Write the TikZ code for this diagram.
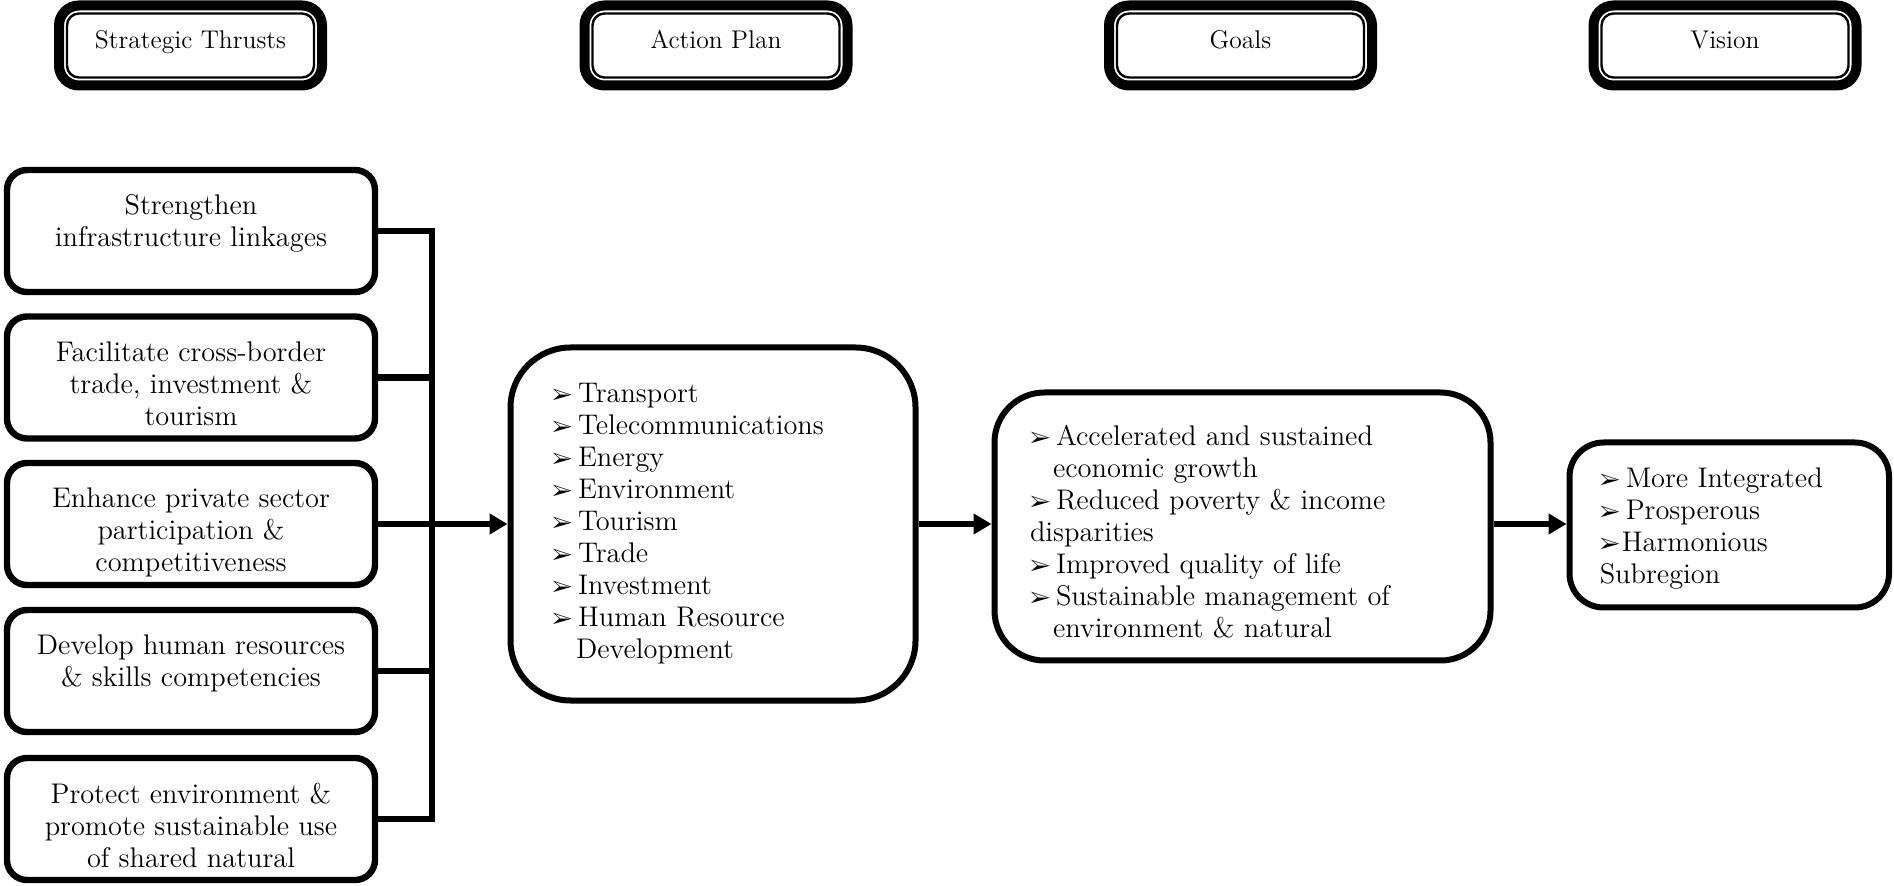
\documentclass[tikz,border=0pt]{standalone}
\usepackage{pifont}
\usetikzlibrary{arrows.meta,calc}

\tikzset{every picture/.style={line width=0.75pt}}
\tikzset{
  headbox/.style={draw, line width=5pt, rounded corners=10pt, minimum width=131.5pt, minimum height=40pt, inner sep=0pt, font=\fontsize{12.8}{15}\selectfont, text height=8.5pt, text depth=5.5pt},
  headline/.style={line width=1.2pt, rounded corners=6pt},
  thrust/.style={draw, line width=3.2pt, rounded corners=10pt, minimum width=184pt, minimum height=61pt, inner sep=0pt, font=\fontsize{14.2}{16}\selectfont},
  listbox/.style={draw, line width=3pt, inner sep=0pt, font=\fontsize{14.2}{16}\selectfont},
  conn/.style={line width=3.3pt},
  arr/.style={conn, -{Triangle[length=9pt,width=10pt]}}
}
% bullet and top aligned text block
\newcommand{\bul}{\makebox[13pt][l]{\fontsize{11}{11}\selectfont\ding{226}}}
\newcommand{\intext}[4]{\begin{minipage}[c][#1][t]{#2}\vspace*{#3}#4\end{minipage}}

\begin{document}
\begin{tikzpicture}[x=0.5pt,y=0.5pt,yscale=-1,xscale=1]
\fill[white] (0,0) rectangle (1894,886);

%Headers
\node[headbox] (hthrust) at (190.5,45.5) {Strategic Thrusts};
\node[headbox] (hplan) at (716,45.5) {Action Plan};
\node[headbox] (hgoal) at (1240.5,45.5) {Goals};
\node[headbox] (hvision) at (1725,45.5) {Vision};
\foreach \h in {hthrust,hplan,hgoal,hvision}
  \draw[headline] ($(\h.north west)+(13,13)$) rectangle ($(\h.south east)+(-13,-13)$);

%Strategic thrusts
\node[thrust] (s1) at (191,231) {\intext{61pt}{184pt}{12.5pt}{\centering Strengthen\\infrastructure linkages}};
\node[thrust] (s2) at (191,377.5) {\intext{61pt}{184pt}{12.5pt}{\centering Facilitate cross-border\\trade, investment \&\\tourism}};
\node[thrust] (s3) at (191,524) {\intext{61pt}{184pt}{12.5pt}{\centering Enhance private sector\\participation \&\\competitiveness}};
\node[thrust] (s4) at (191,671) {\intext{61pt}{184pt}{12.5pt}{\centering Develop human resources\\\& skills competencies}};
\node[thrust] (s5) at (191,819) {\intext{61pt}{184pt}{12.5pt}{\centering Protect environment \&\\promote sustainable use\\of shared natural}};

%Action plan
\node[listbox, rounded corners=30pt, minimum width=202.5pt, minimum height=176.5pt] (plan) at (713,524)
  {\intext{176.5pt}{161pt}{17.8pt}{\raggedright
  \bul Transport\\
  \bul Telecommunications\\
  \bul Energy\\
  \bul Environment\\
  \bul Tourism\\
  \bul Trade\\
  \bul Investment\\
  \bul Human Resource\\
  \hspace*{12pt}Development}};

%Goals
\node[listbox, rounded corners=25pt, minimum width=248pt, minimum height=134pt] (goals) at (1242.5,526.5)
  {\intext{134pt}{212.5pt}{16.3pt}{\raggedright
  \bul Accelerated and sustained\\
  \hspace*{11.5pt}economic growth\\
  \bul Reduced poverty \& income\\
  disparities\\
  \bul Improved quality of life\\
  \bul Sustainable management of\\
  \hspace*{11.5pt}environment \& natural}};

%Vision
\node[listbox, rounded corners=17pt, minimum width=159.75pt, minimum height=82.5pt] (vision) at (1729.25,525)
  {\intext{82.5pt}{129.5pt}{12.8pt}{\raggedright
  \bul More Integrated\\
  \bul Prosperous\\
  \makebox[11pt][l]{\fontsize{11}{11}\selectfont\ding{226}}Harmonious\\
  Subregion}};

%Connectors
\coordinate (spine) at (432,0);
\draw[conn] (s1.east) -- (s1.east -| spine) -- (s5.east -| spine) -- (s5.east);
\foreach \s in {s2,s4}
  \draw[conn] (\s.east) -- (\s.east -| spine);
\draw[arr] (s3.east) -- (plan.west);
\draw[arr] (plan.east) -- (plan.east -| goals.west);
\draw[arr] (plan.east -| goals.east) -- (plan.east -| vision.west);

\end{tikzpicture}
\end{document}
